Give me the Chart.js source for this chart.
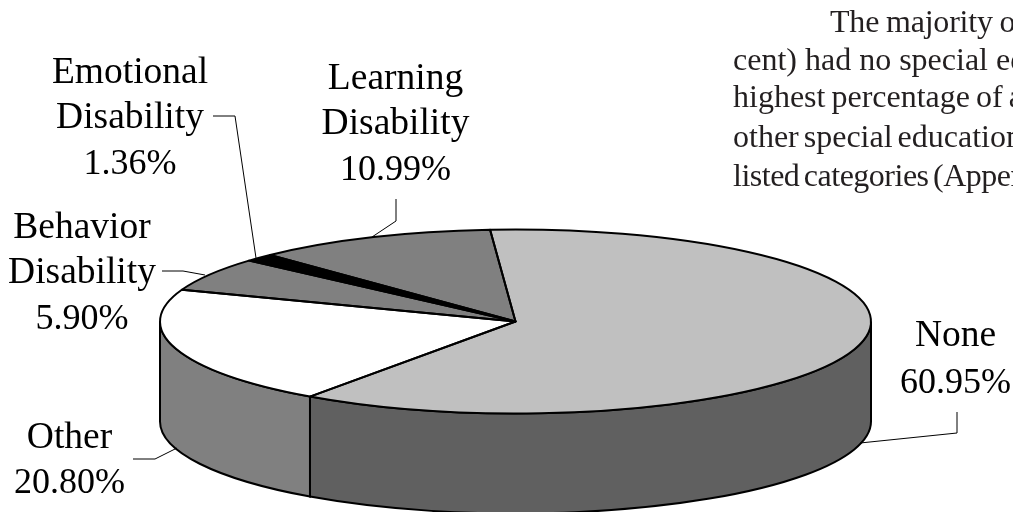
<!DOCTYPE html>
<html>
<head>
<meta charset="utf-8">
<title>Special education categories</title>
<script src="https://cdn.jsdelivr.net/npm/chart.js@4"></script>
<style>
html, body { margin: 0; padding: 0; background: #fff; overflow: hidden; }
canvas { display: block; }
</style>
</head>
<body>
<canvas id="pie-chart" width="1013" height="512"></canvas>
<script>
const categories = ['None', 'Other', 'Behavior Disability', 'Emotional Disability', 'Learning Disability'];
const values = [60.95, 20.80, 5.90, 1.36, 10.99];
const topColors = ['#c0c0c0', '#ffffff', '#808080', '#000000', '#808080'];
const sideColors = ['#606060', '#808080', '#808080', '#000000', '#808080'];

// the squashed pie on the page
const pie = { cx: 515.5, cy: 321.5, rx: 355.5, ry: 92, depth: 100 };

const font = '"Liberation Serif", "Times New Roman", serif';

// label blocks, one per category, centre x and baselines
const labelLines = [
    { x: 955.5, y: [346, 393] },
    { x: 69.5, y: [448, 493] },
    { x: 82, y: [238, 283, 329] },
    { x: 130, y: [83, 128, 174] },
    { x: 395.5, y: [89, 134, 180] }
];
const leaders = [
    [[957, 412], [957, 433], [860, 443]],
    [[133, 459], [155, 459], [177, 448]],
    [[162, 271], [183, 271], [205, 275]],
    [[213, 116], [235, 116], [256, 258]],
    [[396, 199], [396, 221], [372, 237]]
];

// body text of the page that runs off the right edge
const bodyText = [
    { text: 'The majority of', x: 830, y: 32, letter: '-0.2px', word: '-1px' },
    { text: 'cent) had no special education', x: 733, y: 70, letter: '0px', word: '0px' },
    { text: 'highest percentage of all', x: 733, y: 107, letter: '0px', word: '-2px' },
    { text: 'other special education', x: 733, y: 147, letter: '0px', word: '-3px' },
    { text: 'listed categories (Appendix', x: 733, y: 186, letter: '-0.5px', word: '-3px' }
];

const squashPie = {
    id: 'squashPie',
    beforeDatasetsDraw(chart) {
        const ctx = chart.ctx;
        const arcs = chart.getDatasetMeta(0).data;

        // walls first, only the part of each slice that faces front
        ctx.save();
        ctx.lineWidth = 2;
        ctx.strokeStyle = '#000';
        arcs.forEach((arc, i) => {
            const a0 = Math.max(arc.startAngle, 0);
            const a1 = Math.min(arc.endAngle, Math.PI);
            if (a1 <= a0) return;
            ctx.beginPath();
            ctx.ellipse(pie.cx, pie.cy, pie.rx, pie.ry, 0, a0, a1);
            ctx.ellipse(pie.cx, pie.cy + pie.depth, pie.rx, pie.ry, 0, a1, a0, true);
            ctx.closePath();
            ctx.fillStyle = sideColors[i];
            ctx.fill();
            ctx.stroke();
        });
        ctx.restore();

        // then the library draws its round pie through this transform
        const first = arcs[0];
        ctx.save();
        ctx.translate(pie.cx, pie.cy);
        ctx.scale(pie.rx / first.outerRadius, pie.ry / first.outerRadius);
        ctx.translate(-first.x, -first.y);
    },
    afterDatasetsDraw(chart) {
        const ctx = chart.ctx;
        ctx.restore();

        ctx.save();
        ctx.lineWidth = 2;
        ctx.lineJoin = 'round';
        ctx.strokeStyle = '#000';
        chart.getDatasetMeta(0).data.forEach((arc) => {
            ctx.beginPath();
            ctx.moveTo(pie.cx, pie.cy);
            ctx.ellipse(pie.cx, pie.cy, pie.rx, pie.ry, 0, arc.startAngle, arc.endAngle);
            ctx.closePath();
            ctx.stroke();
        });

        // leader lines
        ctx.lineWidth = 1;
        leaders.forEach((pts) => {
            ctx.beginPath();
            pts.forEach((p, i) => i ? ctx.lineTo(p[0], p[1]) : ctx.moveTo(p[0], p[1]));
            ctx.stroke();
        });

        // labels, the words run a little wider than the numbers
        ctx.fillStyle = '#000';
        ctx.textAlign = 'center';
        ctx.textBaseline = 'alphabetic';
        categories.forEach((name, i) => {
            const words = name.split(' ');
            ctx.font = '37.5px ' + font;
            words.forEach((line, j) => ctx.fillText(line, labelLines[i].x, labelLines[i].y[j]));
            ctx.font = '36px ' + font;
            ctx.fillText(values[i].toFixed(2) + '%', labelLines[i].x, labelLines[i].y[words.length]);
        });

        ctx.fillStyle = '#231f20';
        ctx.font = '32px ' + font;
        ctx.textAlign = 'left';
        bodyText.forEach((row) => {
            ctx.letterSpacing = row.letter;
            ctx.wordSpacing = row.word;
            ctx.fillText(row.text, row.x, row.y);
        });
        ctx.restore();
    }
};

new Chart(document.getElementById('pie-chart'), {
    type: 'pie',
    data: {
        labels: categories,
        datasets: [{
            data: values,
            backgroundColor: topColors,
            borderWidth: 0,
            clip: false
        }]
    },
    options: {
        responsive: false,
        animation: false,
        rotation: -4.1,
        events: [],
        plugins: {
            legend: { display: false },
            tooltip: { enabled: false }
        }
    },
    plugins: [squashPie]
});
</script>
</body>
</html>
